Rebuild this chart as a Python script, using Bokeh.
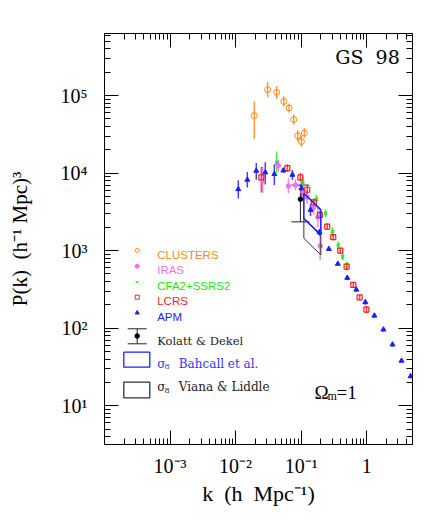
import numpy as np
from bokeh.plotting import figure
from bokeh.models import (LogAxis, FixedTicker, Range1d, LinearScale, Label,
                          ColumnDataSource, Whisker, TeeHead)
from bokeh.embed import file_html
from bokeh.resources import INLINE

# ---------------- data ----------------
clusters_k = [0.0193, 0.0308, 0.0423, 0.0542, 0.0655, 0.0771, 0.0887, 0.101, 0.112]
clusters_P = [5.5e4, 1.19e5, 1.10e5, 8.4e4, 6.9e4, 4.9e4, 3.03e4, 2.56e4, 3.28e4]
clusters_lo = [2.75e4, 9.5e4, 9.0e4, 7.2e4, 6.0e4, 4.2e4, 2.6e4, 2.2e4, 2.85e4]
clusters_hi = [8.3e4, 1.5e5, 1.33e5, 9.8e4, 7.9e4, 5.7e4, 3.6e4, 3.0e4, 3.8e4]

iras_k = [0.026, 0.045, 0.064, 0.082, 0.107, 0.123, 0.155, 0.18, 0.195]
iras_P = [8.0e3, 1.25e4, 6.8e3, 7.0e3, 5.7e3, 4.9e3, 3.6e3, 2.7e3, 1.15e3]
iras_lo = [5.5e3, 1.05e4, 5.5e3, 6.0e3, 4.6e3, 4.0e3, 2.9e3, 2.0e3, 7.5e2]
iras_hi = [1.2e4, 1.5e4, 8.5e3, 8.3e3, 7.0e3, 5.9e3, 4.5e3, 3.6e3, 1.6e3]

cfa_k = [0.0423, 0.106, 0.171, 0.236, 0.301, 0.368, 0.43, 0.50]
cfa_P = [1.37e4, 7.6e3, 4.6e3, 3.03e3, 1.76e3, 1.18e3, 8.37e2, 6.5e2]
cfa_lo = [1.0e4, 6.5e3, 4.0e3, 2.7e3, 1.55e3, 1.05e3, 7.5e2, 5.8e2]
cfa_hi = [1.9e4, 8.9e3, 5.3e3, 3.4e3, 2.0e3, 1.32e3, 9.3e2, 7.3e2]

lcrs_k = [0.0247, 0.0617, 0.0975, 0.124, 0.156, 0.193, 0.25, 0.309, 0.396, 0.494, 0.625, 0.781, 0.989]
lcrs_P = [8.8e3, 1.16e4, 8.8e3, 6.1e3, 4.2e3, 2.88e3, 2.04e3, 1.49e3, 1.0e3, 6.22e2, 3.61e2, 2.5e2, 1.74e2]
lcrs_lo = [5.6e3, 1.03e4, 7.8e3, 5.4e3, 3.7e3, 2.55e3, 1.85e3, 1.36e3, 9.2e2, 5.6e2, 3.35e2, 2.3e2, 1.55e2]
lcrs_hi = [1.21e4, 1.3e4, 1.0e4, 6.9e3, 4.7e3, 3.25e3, 2.25e3, 1.63e3, 1.09e3, 6.9e2, 3.9e2, 2.72e2, 1.95e2]

apm_k = [0.011, 0.0151, 0.0207, 0.0284, 0.039, 0.0536, 0.0736, 0.101, 0.139, 0.19,
         0.265, 0.363, 0.506, 0.695, 0.955, 1.31, 1.80, 2.48, 3.4, 4.67]
apm_P = [6.2e3, 8.2e3, 1.07e4, 1.02e4, 9.7e3, 1.08e4, 9.5e3, 6.35e3, 3.35e3, 1.72e3,
         1.05e3, 6.75e2, 4.45e2, 3.14e2, 2.16e2, 1.45e2, 96.0, 61.5, 38.0, 24.0]
apm_lo = [4.7e3, 6.5e3, 8.2e3, 7.1e3, 7.0e3, 1.0e4, 8.2e3, 5.0e3, 2.8e3, 1.55e3,
          1.0e3, 6.4e2, 4.2e2, 2.95e2, 2.0e2, 1.35e2, 90.0, 58.0, 36.0, 22.5]
apm_hi = [8.1e3, 1.03e4, 1.35e4, 1.38e4, 1.3e4, 1.16e4, 1.1e4, 7.6e3, 4.0e3, 1.9e3,
          1.1e3, 7.1e2, 4.75e2, 3.35e2, 2.32e2, 1.55e2, 102.0, 65.0, 40.0, 25.5]

kd_k = [0.0975]
kd_P = [4.6e3]
kd_lo = [2.35e3]
kd_hi = [7.0e3]

box_k = [0.11, 0.20, 0.20, 0.11]
bahcall_P = [5.5e3, 3.35e3, 1.6e3, 2.6e3]
viana_P = [2.6e3, 1.55e3, 8.8e2, 1.44e3]

x_major = [1e-4, 1e-3, 1e-2, 1e-1, 1.0]
x_labels = [" ", "10\u207b\u00b3", "10\u207b\u00b2", "10\u207b\u00b9", "1"]
y_major = [10.0, 100.0, 1000.0, 10000.0, 100000.0]
y_labels = ["10\u00b9", "10\u00b2", "10\u00b3", "10\u2074", "10\u2075"]

survey_names = ["CLUSTERS", "IRAS", "CFA2+SSRS2", "LCRS", "APM"]

X_MIN, X_MAX = 1e-4, 5.0
Y_MIN, Y_MAX = 10 ** 0.5, 10 ** 5.8

NB = "\u00a0"

# ---------------- colours ----------------
C_OR = "#ff8a1c"
C_IR = "#f070f0"
C_GR = "#22e622"
C_RD = "#ff1e1e"
C_BL = "#1e1eff"

FW, FH = 308, 411
SERIF = "Liberation Serif"

p = figure(x_axis_type="log", y_axis_type="log",
           x_range=Range1d(X_MIN, X_MAX), y_range=Range1d(Y_MIN, Y_MAX),
           frame_width=FW, frame_height=FH,
           min_border_left=104, min_border_right=11, min_border_top=33,
           min_border_bottom=70,
           output_backend="svg", toolbar_location=None)
p.xgrid.visible = False
p.ygrid.visible = False
p.outline_line_color = "black"
p.outline_line_width = 1
p.background_fill_color = "white"
p.border_fill_color = "white"

x_minor = [m * d for d in x_major for m in range(2, 10) if m * d <= X_MAX]
y_minor = [m * d for d in [1.0] + y_major for m in range(2, 10) if Y_MIN <= m * d <= Y_MAX]
xt = FixedTicker(ticks=x_major, minor_ticks=x_minor)
yt = FixedTicker(ticks=y_major, minor_ticks=y_minor)


def style_axis(ax):
    ax.major_tick_in = 14
    ax.major_tick_out = 0
    ax.minor_tick_in = 6
    ax.minor_tick_out = 0
    ax.axis_line_color = "black"
    ax.major_tick_line_color = "black"
    ax.minor_tick_line_color = "black"
    ax.major_label_text_font = SERIF
    ax.major_label_text_font_size = "20px"
    ax.major_label_text_color = "black"
    ax.axis_label_text_font = SERIF
    ax.axis_label_text_font_style = "normal"
    ax.axis_label_text_font_size = "22px"
    ax.axis_label_text_color = "black"


xa = p.xaxis[0]
ya = p.yaxis[0]
xa.ticker = xt
ya.ticker = yt
style_axis(xa)
style_axis(ya)
xa.major_label_overrides = {v: s for v, s in zip(x_major, x_labels)}
ya.major_label_overrides = {v: s for v, s in zip(y_major, y_labels)}
xa.major_label_standoff = 10
ya.major_label_standoff = 17
xa.axis_label = "k" + NB * 2 + "(h" + NB * 2 + "Mpc\u207b\u00b9)"
xa.axis_label_standoff = 1
ya.axis_label = "P(k)" + NB * 2 + "(h\u207b\u00b9" + NB + "Mpc)\u00b3"
ya.axis_label_text_font_size = "21px"
ya.axis_label_standoff = 26

top = LogAxis(ticker=xt)
right = LogAxis(ticker=yt)
for ax in (top, right):
    style_axis(ax)
    ax.major_label_text_font_size = "1px"
    ax.major_label_text_color = None
    ax.major_label_standoff = 0
p.add_layout(top, "above")
p.add_layout(right, "right")

# ---------------- data marks ----------------
def errbars(k, lo, hi, color, w=1.5, alpha=0.85):
    p.segment(x0=k, y0=lo, x1=k, y1=hi, line_color=color, line_width=w, line_alpha=alpha)

errbars(clusters_k, clusters_lo, clusters_hi, C_OR)
errbars(iras_k, iras_lo, iras_hi, C_IR)
errbars(cfa_k, cfa_lo, cfa_hi, C_GR)
errbars(lcrs_k, lcrs_lo, lcrs_hi, C_RD)
errbars(apm_k, apm_lo, apm_hi, C_BL)

p.scatter(clusters_k, clusters_P, marker="circle", size=6, fill_color=None,
          line_color=C_OR, line_width=1)
p.scatter(iras_k, iras_P, marker="circle", size=4.5, fill_color=C_IR, line_color=C_IR)
p.scatter(cfa_k, cfa_P, marker="x", size=4.5, line_color=C_GR, line_width=1.3)
p.scatter(lcrs_k, lcrs_P, marker="square", size=5, fill_color=None,
          line_color=C_RD, line_width=1.2)
p.scatter(apm_k, apm_P, marker="triangle", size=5, fill_color=C_BL, line_color=C_BL)

# Kolatt & Dekel
kd_src = ColumnDataSource(dict(k=kd_k, lo=kd_lo, hi=kd_hi))
p.add_layout(Whisker(source=kd_src, base="k", upper="hi", lower="lo", dimension="height",
                     line_color="#222222", line_width=1,
                     upper_head=TeeHead(size=18, line_color="#222222", line_width=1),
                     lower_head=TeeHead(size=18, line_color="#222222", line_width=1)))
p.scatter(kd_k, kd_P, marker="circle", size=4.5, fill_color="black", line_color="black")

# sigma_8 boxes
p.patch(box_k, viana_P, fill_color=None, line_color="#333333", line_width=1)
p.patch(box_k, bahcall_P, fill_color=None, line_color=C_BL, line_width=1.6)

# ---------------- legend / annotations in frame pixel space ----------------
p.extra_x_ranges = {"px": Range1d(0, FW)}
p.extra_y_ranges = {"py": Range1d(0, FH)}
p.extra_x_scales = {"px": LinearScale()}
p.extra_y_scales = {"py": LinearScale()}
PX = dict(x_range_name="px", y_range_name="py")

leg_colors = [C_OR, C_IR, C_GR, C_RD, C_BL]
leg_markers = ["circle", "circle", "x", "square", "triangle"]
leg_fills = [None, C_IR, None, None, C_BL]
leg_my = [194, 178.3, 162.3, 147.3, 131.7]
leg_ty = [190, 174.7, 159, 143.3, 128]
for name, c, m, f, my, ty in zip(survey_names, leg_colors, leg_markers, leg_fills, leg_my, leg_ty):
    p.scatter([32.7], [my], marker=m, size=4, fill_color=f, line_color=c, line_width=1, **PX)
    p.add_layout(Label(x=52.7, y=ty, text=name, text_color=c, text_font="Liberation Sans",
                       text_font_size="11.5px", text_baseline="middle", **PX))

# Kolatt legend symbol
p.segment(x0=[32.7, 23.2, 23.2], y0=[100.7, 115.7, 100.7], x1=[32.7, 42.2, 42.2],
          y1=[115.7, 115.7, 100.7], line_color="#222222", line_width=1, **PX)
p.scatter([32.7], [108.5], marker="circle", size=4.5, fill_color="black", line_color="black", **PX)
p.add_layout(Label(x=52.7, y=104, text="Kolatt & Dekel", text_color="#222222",
                   text_font="DejaVu Serif", text_font_size="11.5px", text_baseline="middle", **PX))

# box legend symbols
p.quad(left=[19.3], right=[45.3], bottom=[77.3], top=[92.3], fill_color=None,
       line_color=C_BL, line_width=1.3, **PX)
p.quad(left=[19.3], right=[45.3], bottom=[46.7], top=[62.3], fill_color=None,
       line_color="#333333", line_width=1.3, **PX)
for ty, txt, col in [(80.7, "Bahcall et al.", "#3434ff"), (57.3, "Viana & Liddle", "#222222")]:
    p.add_layout(Label(x=52.7, y=ty, text="\u03c3", text_color=col, text_font="DejaVu Serif",
                       text_font_size="12px", text_baseline="middle", **PX))
    p.add_layout(Label(x=60.0, y=ty - 3, text="8", text_color=col, text_font="DejaVu Serif",
                       text_font_size="8px", text_baseline="middle", **PX))
    p.add_layout(Label(x=74.3, y=ty, text=txt, text_color=col, text_font="DejaVu Serif",
                       text_font_size="12px", text_baseline="middle", **PX))

# Omega_m = 1
p.add_layout(Label(x=210, y=52.3, text="\u03a9", text_font=SERIF, text_font_size="19px",
                   text_color="black", text_baseline="alphabetic", **PX))
p.add_layout(Label(x=223, y=49, text="m", text_font=SERIF, text_font_size="12px",
                   text_color="black", text_baseline="alphabetic", **PX))
p.add_layout(Label(x=232, y=52.3, text="=1", text_font=SERIF, text_font_size="19px",
                   text_color="black", text_baseline="alphabetic", **PX))

# GS 98
p.add_layout(Label(x=295.3, y=388, text="GS" + NB * 2 + "98", text_font="DejaVu Serif",
                   text_font_size="19px", text_color="black", text_align="right",
                   text_baseline="alphabetic", **PX))

open("out.html", "w").write(file_html(p, INLINE))
